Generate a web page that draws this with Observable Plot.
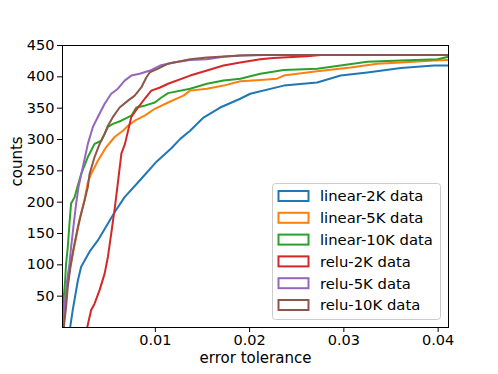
<!DOCTYPE html>
<html>
<head>
<meta charset="utf-8">
<script src="https://cdn.jsdelivr.net/npm/d3@7"></script>
<script src="https://cdn.jsdelivr.net/npm/@observablehq/plot@0.6"></script>
<style>
  html, body { margin: 0; padding: 0; background: #fff; }
  #chart { position: relative; width: 498px; height: 374px; }
</style>
</head>
<body>
<div id="chart"></div>
<script>
// Series names and colours
const seriesNames = ["linear-2K data", "linear-5K data", "linear-10K data", "relu-2K data", "relu-5K data", "relu-10K data"];
const seriesColors = ["#1f77b4", "#ff7f0e", "#2ca02c", "#d62728", "#9467bd", "#8c564b"];

// Tick values
const xTicks = [0.01, 0.02, 0.03, 0.04];
const yTicks = [50, 100, 150, 200, 250, 300, 350, 400, 450];

// linear-2K
const lin2kX = [0.00096, 0.00124, 0.00178, 0.00213, 0.00302, 0.0039, 0.00497, 0.00568, 0.00674, 0.00837, 0.01015, 0.0117, 0.01264, 0.01369, 0.01511, 0.01688, 0.019, 0.02007, 0.02362, 0.02717, 0.02965, 0.03249, 0.03605, 0.03957, 0.0411];
const lin2kY = [0, 28, 75, 97, 121, 139, 166, 184, 208, 235, 265, 286, 301, 314, 335, 351, 365, 373, 386, 391, 402, 407, 414, 418, 418];
// linear-5K
const lin5kX = [0.00023, 0.00039, 0.00057, 0.00089, 0.00124, 0.0016, 0.00199, 0.00249, 0.00284, 0.00319, 0.0039, 0.00479, 0.00568, 0.00656, 0.0071, 0.00781, 0.00887, 0.00994, 0.01135, 0.01298, 0.01369, 0.01547, 0.01723, 0.01901, 0.02114, 0.02291, 0.02362, 0.02717, 0.03071, 0.03355, 0.03605, 0.03957, 0.0411];
const lin5kY = [0, 23, 60, 91, 118, 144, 174, 203, 232, 245, 266, 288, 304, 314, 322, 330, 338, 349, 359, 370, 378, 381, 386, 393, 395, 397, 402, 409, 415, 421, 423, 426, 427];
// linear-10K
const lin10kX = [0.00018, 0.00029, 0.00043, 0.00053, 0.00071, 0.00089, 0.00106, 0.00143, 0.00178, 0.00213, 0.00284, 0.00355, 0.00426, 0.00497, 0.0055, 0.00638, 0.00745, 0.00798, 0.00887, 0.00994, 0.01064, 0.01135, 0.01369, 0.01547, 0.01723, 0.01901, 0.02114, 0.02362, 0.02717, 0.02965, 0.03249, 0.03605, 0.03994, 0.0411];
const lin10kY = [0, 49, 75, 102, 128, 166, 198, 208, 227, 245, 272, 293, 298, 320, 325, 330, 338, 351, 354, 359, 367, 374, 381, 389, 394, 397, 405, 411, 413, 418, 424, 426, 428, 432];
// relu-2K
const relu2kX = [0.00277, 0.00319, 0.00355, 0.00409, 0.00462, 0.00497, 0.00534, 0.00571, 0.00606, 0.0064, 0.00678, 0.00745, 0.00816, 0.00887, 0.00957, 0.0105, 0.01135, 0.01369, 0.01547, 0.01723, 0.01901, 0.02114, 0.0225, 0.0261, 0.02752];
const relu2kY = [0, 28, 38, 60, 86, 113, 152, 192, 235, 278, 293, 336, 351, 365, 378, 383, 389, 402, 410, 418, 423, 428, 430, 433, 435];
// relu-5K
const relu5kX = [0.00013, 0.00036, 0.00064, 0.00089, 0.00106, 0.00135, 0.0016, 0.00185, 0.00231, 0.00284, 0.00337, 0.0039, 0.00462, 0.00532, 0.00603, 0.00674, 0.00745, 0.00834, 0.00944, 0.0105, 0.01191, 0.01369, 0.01547, 0.01723, 0.01901, 0.02185];
const relu5kY = [0, 33, 75, 102, 128, 166, 198, 224, 256, 293, 320, 336, 357, 373, 381, 394, 402, 405, 410, 418, 423, 427, 428, 432, 434, 435];
// relu-10K
const relu10kX = [0.00029, 0.00053, 0.00071, 0.001, 0.00135, 0.00178, 0.00213, 0.00249, 0.00284, 0.00302, 0.00355, 0.00409, 0.00462, 0.00497, 0.0055, 0.00621, 0.0071, 0.00781, 0.00851, 0.00904, 0.0094, 0.01029, 0.01135, 0.01369, 0.01547, 0.01901, 0.02079, 0.0411];
const relu10kY = [0, 33, 65, 97, 128, 160, 182, 203, 224, 245, 272, 293, 309, 322, 336, 351, 362, 370, 383, 399, 407, 413, 421, 428, 431, 434, 435, 435];

const seriesX = [lin2kX, lin5kX, lin10kX, relu2kX, relu5kX, relu10kX];
const seriesY = [lin2kY, lin5kY, lin10kY, relu2kY, relu5kY, relu10kY];

const rows = [];
seriesNames.forEach((name, i) => {
  seriesX[i].forEach((x, j) => rows.push({series: name, x, y: seriesY[i][j]}));
});

const FONT = "DejaVu Sans, sans-serif";

const plot = Plot.plot({
  width: 498,
  height: 374,
  marginLeft: 62,
  marginRight: 50,
  marginTop: 45,
  marginBottom: 47,
  style: {fontFamily: FONT, fontSize: "14.5px", color: "#000", background: "#fff"},
  x: {domain: [0.00015, 0.0411]},
  y: {domain: [0, 450]},
  color: {domain: seriesNames, range: seriesColors},
  marks: [
    Plot.line(rows, {x: "x", y: "y", z: "series", stroke: "series", strokeWidth: 2, clip: true}),
    Plot.frame({stroke: "#000", strokeWidth: 1}),
    Plot.axisX({ticks: xTicks, tickFormat: d => String(d), tickSize: 5, tickPadding: 2, label: null, stroke: "#000", fill: "#000"}),
    Plot.axisY({ticks: yTicks, tickFormat: d => String(d), tickSize: 5, tickPadding: 3, label: null, stroke: "#000", fill: "#000"}),
    Plot.text(["error tolerance"], {frameAnchor: "bottom", dy: 35, fill: "#000", fontSize: 15}),
    Plot.text(["counts"], {frameAnchor: "left", dx: -45, rotate: -90, fill: "#000", fontSize: 15})
  ]
});

document.getElementById("chart").appendChild(plot);

// Legend (drawn inside the same SVG)
const svg = d3.select(plot);
const lg = svg.append("g").attr("font-family", FONT).attr("font-size", "14.8px").attr("text-anchor", "start");
lg.append("rect")
  .attr("x", 272.5).attr("y", 183.5).attr("width", 168).attr("height", 136)
  .attr("rx", 3).attr("fill", "rgba(255,255,255,0.8)").attr("stroke", "#cccccc").attr("stroke-width", 1);
seriesNames.forEach((name, i) => {
  const cy = 196 + i * 21.8;
  lg.append("rect")
    .attr("x", 278.5).attr("y", cy - 5).attr("width", 30).attr("height", 10)
    .attr("fill", "none").attr("stroke", seriesColors[i]).attr("stroke-width", 2);
  lg.append("text")
    .attr("x", 320).attr("y", cy).attr("dy", "0.36em").attr("text-anchor", "start")
    .attr("fill", "#000").text(name);
});
</script>
</body>
</html>
